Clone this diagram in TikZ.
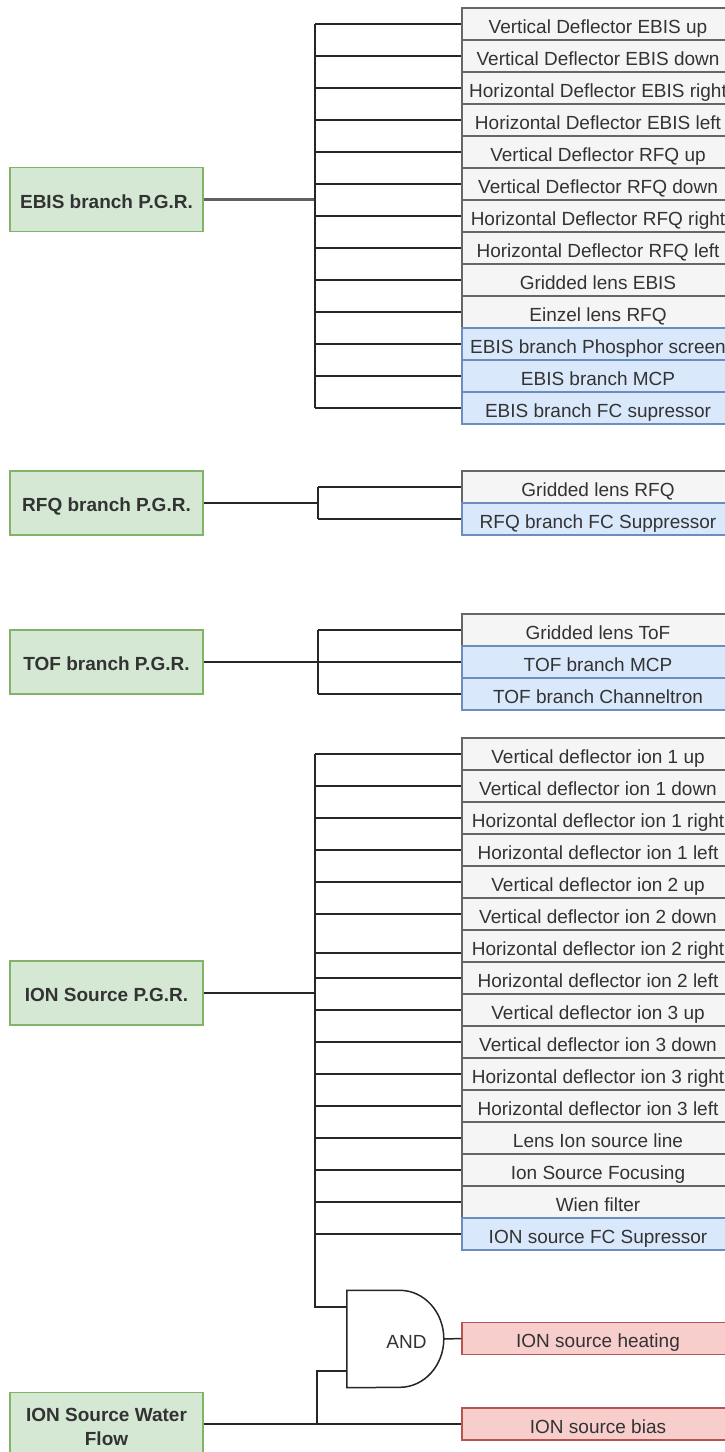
\documentclass[tikz,border=0pt]{standalone}
\usepackage{fontspec}
\setmainfont{Liberation Sans}
\definecolor{grayfill}{HTML}{F5F5F5}
\definecolor{graystroke}{HTML}{666666}
\definecolor{bluefill}{HTML}{DAE8FC}
\definecolor{bluestroke}{HTML}{6C8EBF}
\definecolor{greenfill}{HTML}{D5E8D4}
\definecolor{greenstroke}{HTML}{82B366}
\definecolor{redfill}{HTML}{F8CECC}
\definecolor{redstroke}{HTML}{B85450}
\definecolor{txt}{HTML}{333333}
\begin{document}
\begin{tikzpicture}[x=1bp,y=-1bp,
  every node/.style={font=\fontsize{19bp}{23.5bp}\selectfont, inner sep=0pt},
  oneline/.style={text height=18.4bp, text depth=0bp},
  item/.style={rectangle, oneline, minimum width=272bp, minimum height=32bp,
    line width=1.4bp, text=txt},
  grayitem/.style={item, draw=graystroke, fill=grayfill},
  blueitem/.style={item, draw=bluestroke, fill=bluefill},
  reditem/.style={item, draw=redstroke, fill=redfill},
  pgr/.style={rectangle, minimum width=193bp, minimum height=64bp, draw=greenstroke,
    fill=greenfill, line width=1.4bp, text=txt, align=center,
    font=\fontsize{19bp}{23.5bp}\selectfont\bfseries},
  pgrone/.style={pgr, text height=17.4bp, text depth=0bp},
  wire/.style={draw=black!85, line width=1.5bp},
]
\useasboundingbox (0,0) rectangle (725,1452);
\clip (0,0) rectangle (725,1452);
\fill[white] (0,0) rectangle (725,1452);

% bus columns
\coordinate (busE) at (315,0);
\coordinate (busR) at (318,0);
\coordinate (busT) at (318,0);
\coordinate (busI) at (315,0);
\coordinate (busW) at (317,0);

% ---------------- EBIS branch ----------------
\node[pgrone] (pe) at (106.5,199.5) {EBIS branch P.G.R.};
\node[grayitem] (e1)  at (598,24)  {Vertical Deflector EBIS up};
\node[grayitem] (e2)  at (598,56)  {Vertical Deflector EBIS down};
\node[grayitem] (e3)  at (598,88)  {Horizontal Deflector EBIS right};
\node[grayitem] (e4)  at (598,120) {Horizontal Deflector EBIS left};
\node[grayitem] (e5)  at (598,152) {Vertical Deflector RFQ up};
\node[grayitem] (e6)  at (598,184) {Vertical Deflector RFQ down};
\node[grayitem] (e7)  at (598,216) {Horizontal Deflector RFQ right};
\node[grayitem] (e8)  at (598,248) {Horizontal Deflector RFQ left};
\node[grayitem] (e9)  at (598,280) {Gridded lens EBIS};
\node[grayitem] (e10) at (598,312) {Einzel lens RFQ};
\node[blueitem] (e11) at (598,344) {EBIS branch Phosphor screen};
\node[blueitem] (e12) at (598,376) {EBIS branch MCP};
\node[blueitem] (e13) at (598,408) {EBIS branch FC supressor};

\draw[draw=black!62, line width=2.2bp] (pe.east) -- (pe.east -| busE);
\draw[wire] (e1.west -| busE) -- (e13.west -| busE);
\foreach \n in {e1,e2,e3,e4,e5,e6,e7,e8,e9,e10,e11,e12,e13}
  \draw[wire] (\n.west -| busE) -- (\n.west);

% ---------------- RFQ branch ----------------
\node[pgrone] (pr) at (106.5,503) {RFQ branch P.G.R.};
\node[grayitem] (r1) at (598,487) {Gridded lens RFQ};
\node[blueitem] (r2) at (598,519) {RFQ branch FC Suppressor};

\draw[wire] (pr.east) -- (pr.east -| busR);
\draw[wire] (r1.west -| busR) -- (r2.west -| busR);
\draw[wire] (r1.west -| busR) -- (r1.west);
\draw[wire] (r2.west -| busR) -- (r2.west);

% ---------------- TOF branch ----------------
\node[pgrone] (pt) at (106.5,662) {TOF branch P.G.R.};
\node[grayitem] (t1) at (598,630) {Gridded lens ToF};
\node[blueitem] (t2) at (598,662) {TOF branch MCP};
\node[blueitem] (t3) at (598,694) {TOF branch Channeltron};

\draw[wire] (t1.west -| busT) -- (t3.west -| busT);
\draw[wire] (pt.east) -- (t2.west);
\draw[wire] (t1.west -| busT) -- (t1.west);
\draw[wire] (t3.west -| busT) -- (t3.west);

% ---------------- ION source ----------------
\node[pgrone] (pi) at (106.5,993) {ION Source P.G.R.};
\node[grayitem] (i1)  at (598,754)  {Vertical deflector ion 1 up};
\node[grayitem] (i2)  at (598,786)  {Vertical deflector ion 1 down};
\node[grayitem] (i3)  at (598,818)  {Horizontal deflector ion 1 right};
\node[grayitem] (i4)  at (598,850)  {Horizontal deflector ion 1 left};
\node[grayitem] (i5)  at (598,882)  {Vertical deflector ion 2 up};
\node[grayitem] (i6)  at (598,914)  {Vertical deflector ion 2 down};
\node[grayitem] (i7)  at (598,946)  {Horizontal deflector ion 2 right};
\node[grayitem] (i8)  at (598,978)  {Horizontal deflector ion 2 left};
\node[grayitem] (i9)  at (598,1010) {Vertical deflector ion 3 up};
\node[grayitem] (i10) at (598,1042) {Vertical deflector ion 3 down};
\node[grayitem] (i11) at (598,1074) {Horizontal deflector ion 3 right};
\node[grayitem] (i12) at (598,1106) {Horizontal deflector ion 3 left};
\node[grayitem] (i13) at (598,1138) {Lens Ion source line};
\node[grayitem] (i14) at (598,1170) {Ion Source Focusing};
\node[grayitem] (i15) at (598,1202) {Wien filter};
\node[blueitem] (i16) at (598,1234) {ION source FC Supressor};

% AND gate: flat back, elliptic front
\node[minimum width=97bp, minimum height=97bp] (gate) at (395.5,1339) {};
\draw[wire, fill=white] (gate.north west) -- ([xshift=53bp]gate.north west)
  arc[start angle=90, end angle=-90, x radius=44bp, y radius=48.5bp]
  -- (gate.south west) -- cycle;
\node[text=txt, oneline] (andlbl) at ([xshift=11bp]gate.center) {AND};
\coordinate (gin1) at ([yshift=32bp]gate.west);
\coordinate (gin2) at ([yshift=-32bp]gate.west);

\node[reditem] (heat) at (598,1338.5) {ION source heating};
\node[reditem] (bias) at (598,1424) {ION source bias};
\node[pgr] (pw) at (106.5,1424.5) {\rule{0pt}{18bp}ION Source Water\\Flow};

\draw[wire] (pi.east) -- (pi.east -| busI);
\draw[wire] (i1.west -| busI) -- (gin1 -| busI) -- (gin1);
\foreach \n in {i1,i2,i3,i4,i5,i6,i8,i9,i10,i11,i12,i13,i14,i15,i16}
  \draw[wire] (\n.west -| busI) -- (\n.west);
\draw[wire] ([yshift=-7bp]i7.west -| busI) -- ([yshift=-7bp]i7.west);

\draw[wire] (gate.east) -- (heat.west);
\draw[wire] (pw.east |- bias.west) -- (bias.west);
\draw[wire] (bias.west -| busW) -- (gin2 -| busW) -- (gin2);
\end{tikzpicture}
\end{document}
